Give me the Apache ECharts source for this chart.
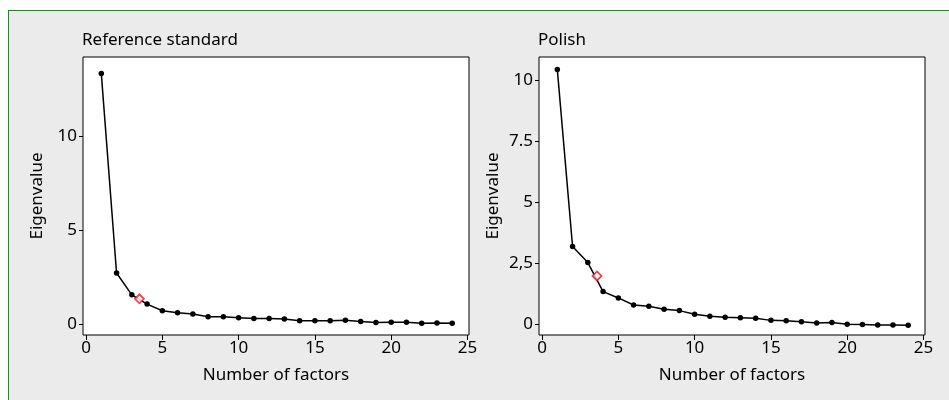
<!DOCTYPE html>
<html>
<head>
<meta charset="utf-8">
<script src="https://cdn.jsdelivr.net/npm/echarts@6/dist/echarts.min.js"></script>
<style>
  html, body { margin: 0; padding: 0; background: #ffffff; }
  #frame { position: absolute; left: 8px; top: 10px; width: 1000px; height: 450px;
           background: #ebebeb; border: 1.5px solid #2e7d32; box-sizing: border-box; }
  #chart { position: absolute; left: 0; top: 0; width: 949px; height: 400px; }
</style>
</head>
<body>
<div id="frame"></div>
<div id="chart"></div>
<script>
// ---- data ----
const factors = [1,2,3,4,5,6,7,8,9,10,11,12,13,14,15,16,17,18,19,20,21,22,23,24];
const refValues = [13.3, 2.72, 1.56, 1.07, 0.72, 0.61, 0.54, 0.40, 0.40, 0.35, 0.30, 0.30,
                   0.28, 0.18, 0.19, 0.19, 0.21, 0.14, 0.09, 0.10, 0.10, 0.05, 0.07, 0.05];
const polValues = [10.45, 3.19, 2.53, 1.34, 1.08, 0.79, 0.74, 0.62, 0.56, 0.41, 0.33, 0.29,
                   0.27, 0.25, 0.16, 0.14, 0.10, 0.05, 0.07, 0.0, -0.01, -0.03, -0.03, -0.04];
const refMarker = [3.5, 1.35];
const polMarker = [3.6, 1.98];
const xTicks = [0, 5, 10, 15, 20, 25];
const refYTicks = [0, 5, 10];
const polYTicks = [0, 2.5, 5, 7.5, 10];
const polYLabels = ['0', '2,5', '5', '7.5', '10'];
const titles = ['Reference standard', 'Polish'];
const xName = 'Number of factors';
const yName = 'Eigenvalue';

const FONT = 'Noto Sans';
const FS = 17;
const chart = echarts.init(document.getElementById('chart'));

function xAxisCfg(idx) {
  return {
    type: 'value', gridIndex: idx, min: -0.2, max: 25.1,
    name: xName, nameLocation: 'middle', nameGap: 32,
    nameTextStyle: { fontFamily: FONT, fontSize: FS, color: '#000' },
    axisLine: { show: false, onZero: false },
    axisTick: { show: true, length: 5, customValues: xTicks, lineStyle: { color: '#000' } },
    axisLabel: { customValues: xTicks, fontFamily: FONT, fontSize: FS, color: '#000', margin: 5 },
    splitLine: { show: false }
  };
}
function yAxisCfg(idx, min, max, ticks, labels) {
  return {
    type: 'value', gridIndex: idx, min: min, max: max,
    name: yName, nameLocation: 'middle', nameGap: 37, nameRotate: 90,
    nameTextStyle: { fontFamily: FONT, fontSize: FS, color: '#000' },
    axisLine: { show: false, onZero: false },
    axisTick: { show: true, length: 4, customValues: ticks, lineStyle: { color: '#000' } },
    axisLabel: {
      customValues: ticks, fontFamily: FONT, fontSize: FS, color: '#000', margin: 6,
      formatter: labels ? function (v) { const i = ticks.indexOf(v); return i >= 0 ? labels[i] : String(v); } : undefined
    },
    splitLine: { show: false }
  };
}
function lineSeries(idx, vals) {
  return {
    type: 'line', xAxisIndex: idx, yAxisIndex: idx,
    data: factors.map((f, i) => [f, vals[i]]),
    symbol: 'circle', symbolSize: 5.5, showSymbol: true,
    lineStyle: { color: '#000', width: 1.5 },
    itemStyle: { color: '#000' },
    animation: false, z: 2
  };
}
function markerSeries(idx, pt) {
  return {
    type: 'scatter', xAxisIndex: idx, yAxisIndex: idx,
    data: [pt], symbol: 'diamond', symbolSize: 9,
    itemStyle: { color: '#fff', borderColor: '#e8141b', borderWidth: 1.8 },
    animation: false, z: 5
  };
}

chart.setOption({
  backgroundColor: 'transparent',
  animation: false,
  title: [
    { text: titles[0], left: 82, top: 32, padding: 0,
      textStyle: { fontFamily: FONT, fontSize: FS, fontWeight: 'normal', color: '#000' } },
    { text: titles[1], left: 538, top: 32, padding: 0,
      textStyle: { fontFamily: FONT, fontSize: FS, fontWeight: 'normal', color: '#000' } }
  ],
  grid: [
    { left: 83, right: 480, top: 57, bottom: 65, show: true, backgroundColor: '#fff',
      borderColor: '#000', borderWidth: 1 },
    { left: 539, right: 24, top: 57, bottom: 65, show: true, backgroundColor: '#fff',
      borderColor: '#000', borderWidth: 1 }
  ],
  xAxis: [xAxisCfg(0), xAxisCfg(1)],
  yAxis: [yAxisCfg(0, -0.57, 14.18, refYTicks, null),
          yAxisCfg(1, -0.44, 10.96, polYTicks, polYLabels)],
  series: [lineSeries(0, refValues), markerSeries(0, refMarker),
           lineSeries(1, polValues), markerSeries(1, polMarker)]
});
</script>
</body>
</html>
